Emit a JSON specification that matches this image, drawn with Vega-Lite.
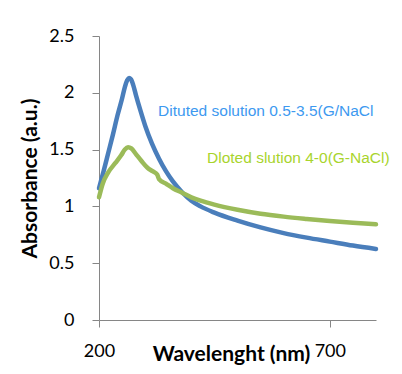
{
  "$schema": "https://vega.github.io/schema/vega-lite/v6.json",
  "width": 277,
  "height": 284,
  "autosize": "none",
  "padding": {"left": 99, "top": 36, "right": 26, "bottom": 54},
  "background": "white",
  "config": {
    "view": {"stroke": null},
    "font": "Lato",
    "axis": {
      "grid": false,
      "domainColor": "#868686",
      "tickColor": "#868686",
      "tickSize": 7,
      "labelFont": "Lato",
      "labelFontSize": 18,
      "labelColor": "#000000",
      "titleFont": "Lato",
      "titleFontSize": 21,
      "titleFontWeight": "bold",
      "titleColor": "#000000"
    }
  },
  "datasets": {
    "spectra": [
      {"series": "Diluted 0.5-3.5", "wavelength": 200, "absorbance": 1.16},
      {"series": "Diluted 0.5-3.5", "wavelength": 210, "absorbance": 1.31},
      {"series": "Diluted 0.5-3.5", "wavelength": 220, "absorbance": 1.47},
      {"series": "Diluted 0.5-3.5", "wavelength": 230, "absorbance": 1.63},
      {"series": "Diluted 0.5-3.5", "wavelength": 240, "absorbance": 1.80},
      {"series": "Diluted 0.5-3.5", "wavelength": 250, "absorbance": 1.95},
      {"series": "Diluted 0.5-3.5", "wavelength": 256, "absorbance": 2.05},
      {"series": "Diluted 0.5-3.5", "wavelength": 261, "absorbance": 2.11},
      {"series": "Diluted 0.5-3.5", "wavelength": 265, "absorbance": 2.13},
      {"series": "Diluted 0.5-3.5", "wavelength": 269, "absorbance": 2.12},
      {"series": "Diluted 0.5-3.5", "wavelength": 274, "absorbance": 2.07},
      {"series": "Diluted 0.5-3.5", "wavelength": 280, "absorbance": 1.98},
      {"series": "Diluted 0.5-3.5", "wavelength": 290, "absorbance": 1.84},
      {"series": "Diluted 0.5-3.5", "wavelength": 300, "absorbance": 1.71},
      {"series": "Diluted 0.5-3.5", "wavelength": 315, "absorbance": 1.55},
      {"series": "Diluted 0.5-3.5", "wavelength": 330, "absorbance": 1.42},
      {"series": "Diluted 0.5-3.5", "wavelength": 345, "absorbance": 1.31},
      {"series": "Diluted 0.5-3.5", "wavelength": 360, "absorbance": 1.22},
      {"series": "Diluted 0.5-3.5", "wavelength": 380, "absorbance": 1.125},
      {"series": "Diluted 0.5-3.5", "wavelength": 400, "absorbance": 1.05},
      {"series": "Diluted 0.5-3.5", "wavelength": 420, "absorbance": 1.00},
      {"series": "Diluted 0.5-3.5", "wavelength": 450, "absorbance": 0.945},
      {"series": "Diluted 0.5-3.5", "wavelength": 500, "absorbance": 0.875},
      {"series": "Diluted 0.5-3.5", "wavelength": 550, "absorbance": 0.815},
      {"series": "Diluted 0.5-3.5", "wavelength": 600, "absorbance": 0.765},
      {"series": "Diluted 0.5-3.5", "wavelength": 650, "absorbance": 0.725},
      {"series": "Diluted 0.5-3.5", "wavelength": 700, "absorbance": 0.69},
      {"series": "Diluted 0.5-3.5", "wavelength": 750, "absorbance": 0.655},
      {"series": "Diluted 0.5-3.5", "wavelength": 800, "absorbance": 0.625},
      {"series": "Diluted 4-0", "wavelength": 200, "absorbance": 1.08},
      {"series": "Diluted 4-0", "wavelength": 208, "absorbance": 1.20},
      {"series": "Diluted 4-0", "wavelength": 220, "absorbance": 1.30},
      {"series": "Diluted 4-0", "wavelength": 235, "absorbance": 1.38},
      {"series": "Diluted 4-0", "wavelength": 248, "absorbance": 1.45},
      {"series": "Diluted 4-0", "wavelength": 256, "absorbance": 1.50},
      {"series": "Diluted 4-0", "wavelength": 263, "absorbance": 1.52},
      {"series": "Diluted 4-0", "wavelength": 270, "absorbance": 1.51},
      {"series": "Diluted 4-0", "wavelength": 280, "absorbance": 1.46},
      {"series": "Diluted 4-0", "wavelength": 292, "absorbance": 1.40},
      {"series": "Diluted 4-0", "wavelength": 305, "absorbance": 1.34},
      {"series": "Diluted 4-0", "wavelength": 316, "absorbance": 1.31},
      {"series": "Diluted 4-0", "wavelength": 326, "absorbance": 1.28},
      {"series": "Diluted 4-0", "wavelength": 330, "absorbance": 1.24},
      {"series": "Diluted 4-0", "wavelength": 345, "absorbance": 1.20},
      {"series": "Diluted 4-0", "wavelength": 360, "absorbance": 1.16},
      {"series": "Diluted 4-0", "wavelength": 380, "absorbance": 1.12},
      {"series": "Diluted 4-0", "wavelength": 400, "absorbance": 1.08},
      {"series": "Diluted 4-0", "wavelength": 420, "absorbance": 1.05},
      {"series": "Diluted 4-0", "wavelength": 450, "absorbance": 1.015},
      {"series": "Diluted 4-0", "wavelength": 500, "absorbance": 0.97},
      {"series": "Diluted 4-0", "wavelength": 550, "absorbance": 0.935},
      {"series": "Diluted 4-0", "wavelength": 600, "absorbance": 0.91},
      {"series": "Diluted 4-0", "wavelength": 650, "absorbance": 0.89},
      {"series": "Diluted 4-0", "wavelength": 700, "absorbance": 0.872},
      {"series": "Diluted 4-0", "wavelength": 750, "absorbance": 0.856},
      {"series": "Diluted 4-0", "wavelength": 800, "absorbance": 0.842}
    ],
    "labels": [
      {"series": "Diluted 0.5-3.5", "wavelength": 328, "absorbance": 1.80, "label": "Dituted solution 0.5-3.5(G/NaCl"},
      {"series": "Diluted 4-0", "wavelength": 434, "absorbance": 1.38, "label": "Dloted slution 4-0(G-NaCl)"}
    ]
  },
  "layer": [
    {
      "data": {"name": "spectra"},
      "mark": {"type": "line", "strokeWidth": 4.5, "interpolate": "monotone", "strokeJoin": "round", "strokeCap": "round"},
      "encoding": {
        "x": {
          "field": "wavelength",
          "type": "quantitative",
          "scale": {"domain": [200, 800], "nice": false, "zero": false},
          "axis": {
            "values": [200, 700],
            "title": "Wavelenght (nm)",
            "labelPadding": 15,
            "labelFlush": false,
            "titleX": 132,
            "titleY": 40,
            "titleBaseline": "alphabetic",
            "titleAlign": "center"
          }
        },
        "y": {
          "field": "absorbance",
          "type": "quantitative",
          "scale": {"domain": [0, 2.5], "nice": false},
          "axis": {
            "values": [0, 0.5, 1, 1.5, 2, 2.5],
            "format": "~g",
            "title": "Absorbance (a.u.)",
            "labelPadding": 18,
            "titlePadding": 8,
            "labelFlush": false
          }
        },
        "color": {
          "field": "series",
          "type": "nominal",
          "scale": {"domain": ["Diluted 0.5-3.5", "Diluted 4-0"], "range": ["#4a7ebb", "#9bbb59"]},
          "legend": null
        }
      }
    },
    {
      "data": {"name": "labels"},
      "mark": {"type": "text", "align": "left", "baseline": "alphabetic", "font": "Liberation Sans", "fontSize": 15.5},
      "encoding": {
        "x": {"field": "wavelength", "type": "quantitative"},
        "y": {"field": "absorbance", "type": "quantitative"},
        "text": {"field": "label"},
        "color": {
          "field": "series",
          "type": "nominal",
          "scale": {"domain": ["Diluted 0.5-3.5", "Diluted 4-0"], "range": ["#3d99f0", "#a8d42c"]},
          "legend": null
        }
      }
    }
  ],
  "resolve": {"scale": {"color": "independent"}}
}
